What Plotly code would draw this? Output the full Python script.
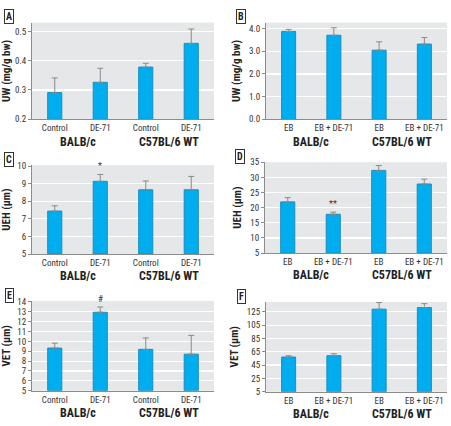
import plotly.graph_objects as go

W, H = 451, 426

cats_ctrl = ["Control", "DE-71", "Control", "DE-71"]
cats_eb = ["EB", "EB + DE-71", "EB", "EB + DE-71"]
groups = ["BALB/c", "C57BL/6 WT"]

uw_a = [0.291, 0.326, 0.378, 0.459]
uw_a_err = [0.341, 0.374, 0.391, 0.508]
uw_b = [3.88, 3.71, 3.05, 3.32]
uw_b_err = [3.97, 4.04, 3.42, 3.61]
ueh_c = [7.44, 9.13, 8.65, 8.65]
ueh_c_err = [7.74, 9.52, 9.15, 9.41]
ueh_d = [21.9, 17.8, 32.3, 27.8]
ueh_d_err = [23.3, 18.5, 33.9, 29.4]
vet_e = [9.32, 12.95, 9.19, 8.70]
vet_e_err = [9.82, 13.48, 10.35, 10.60]
vet_f = [57.1, 59.1, 129.0, 131.4]
vet_f_err = [59.1, 62.0, 139.0, 137.3]

FONT = "Roboto Condensed, Liberation Sans Narrow, sans-serif"
BAR = "#00aeef"
EDGE = "#1b8cbf"
BG = "#e6e7e8"

def px_x(p):
    return p / W

def px_y(p):
    return 1 - p / H

panels = [
    ("A", cats_ctrl, uw_a, uw_a_err, "UW (mg/g bw)", [0.2, 0.53], [0.2, 0.3, 0.4, 0.5], ".1f", (32, 214, 18, 117), None),
    ("B", cats_eb, uw_b, uw_b_err, "UW (mg/g bw)", [0, 4.27], [0, 1, 2, 3, 4], ".1f", (266, 447, 18, 117), None),
    ("C", cats_ctrl, ueh_c, ueh_c_err, "UEH (μm)", [5, 10.05], [5, 6, 7, 8, 9, 10], "d", (32, 214, 164, 255), "*"),
    ("D", cats_eb, ueh_d, ueh_d_err, "UEH (μm)", [5, 35], [5, 10, 15, 20, 25, 30, 35], "d", (265, 447, 161, 254), "**"),
    ("E", cats_ctrl, vet_e, vet_e_err, "VET (μm)", [5, 14.1], list(range(5, 15)), "d", (32, 214, 303, 395), "#"),
    ("F", cats_eb, vet_f, vet_f_err, "VET (μm)", [5, 140], [5, 25, 45, 65, 85, 105, 125], "d", (266, 447, 304, 396), None),
]

fig = go.Figure()
annotations = []
layout = dict(
    width=W, height=H, margin=dict(l=0, r=0, t=0, b=0),
    paper_bgcolor="white", plot_bgcolor=BG, showlegend=False,
    font=dict(family=FONT, size=9, color="#333"),
)

for i, (letter, cats, vals, errs, ytitle, yr, tv, fmt, dom, sig) in enumerate(panels):
    n = "" if i == 0 else str(i + 1)
    xa, ya = "x" + n, "y" + n
    x0, x1, y0, y1 = dom
    xs = [0, 1, 2, 3]
    fig.add_trace(go.Bar(
        x=xs, y=[v - yr[0] for v in vals], base=yr[0], xaxis=xa, yaxis=ya,
        width=0.31, marker=dict(color=BAR, line=dict(color=EDGE, width=1)),
        error_y=dict(type="data", symmetric=False,
                     array=[e - v for e, v in zip(errs, vals)],
                     arrayminus=[0] * 4, color="#8a8a8a", thickness=1, width=3),
        hoverinfo="skip",
    ))
    layout["xaxis" + n] = dict(
        domain=[px_x(x0), px_x(x1)], anchor=ya, range=[-0.5, 3.5],
        tickvals=xs, ticktext=cats, showgrid=False, zeroline=False,
        showline=True, linecolor="#8c8c8c", linewidth=1, ticks="",
        tickfont=dict(size=9, color="#333", family=FONT), fixedrange=True,
    )
    layout["yaxis" + n] = dict(
        domain=[px_y(y1), px_y(y0)], anchor=xa, range=yr, tickvals=tv,
        tickformat=fmt, showgrid=True, gridcolor="white", gridwidth=1.2,
        zeroline=False, showline=True, linecolor="#8c8c8c", linewidth=1,
        ticks="outside", ticklen=3, tickcolor="#8c8c8c",
        tickfont=dict(size=9, color="#333", family=FONT),
        title=dict(text="<b>" + ytitle + "</b>", font=dict(size=11, color="#222", family=FONT), standoff=6),
        fixedrange=True,
    )
    for gx, g in zip([0.5, 2.5], groups):
        annotations.append(dict(
            x=gx, y=px_y(y1 + 23), xref=xa, yref="paper", yanchor="middle", showarrow=False,
            text="<b>" + g + "</b>", font=dict(size=12, color="#222", family=FONT),
        ))
    annotations.append(dict(
        x=px_x(x0 - 23 if x0 < 100 else x0 - 25), y=px_y(dom[2] - 6), xref="paper", yref="paper",
        xanchor="center", yanchor="middle", showarrow=False,
        text="<b>" + letter + "</b>", font=dict(size=10, color="#222", family=FONT),
        bordercolor="#333", borderwidth=1, borderpad=1, bgcolor="white",
    ))
    if sig:
        annotations.append(dict(
            x=1, y=errs[1], xref=xa, yref=ya, yanchor="bottom", showarrow=False,
            text=sig, font=dict(size=9, color="#333", family=FONT), yshift=1,
        ))

layout["annotations"] = annotations
fig.update_layout(**layout)
fig.write_html(
    "out.html",
    config={"displayModeBar": False, "staticPlot": True},
    post_script="document.documentElement.style.margin='0';document.body.style.margin='0';"
                "document.body.style.padding='0';document.body.style.overflow='hidden';",
)
